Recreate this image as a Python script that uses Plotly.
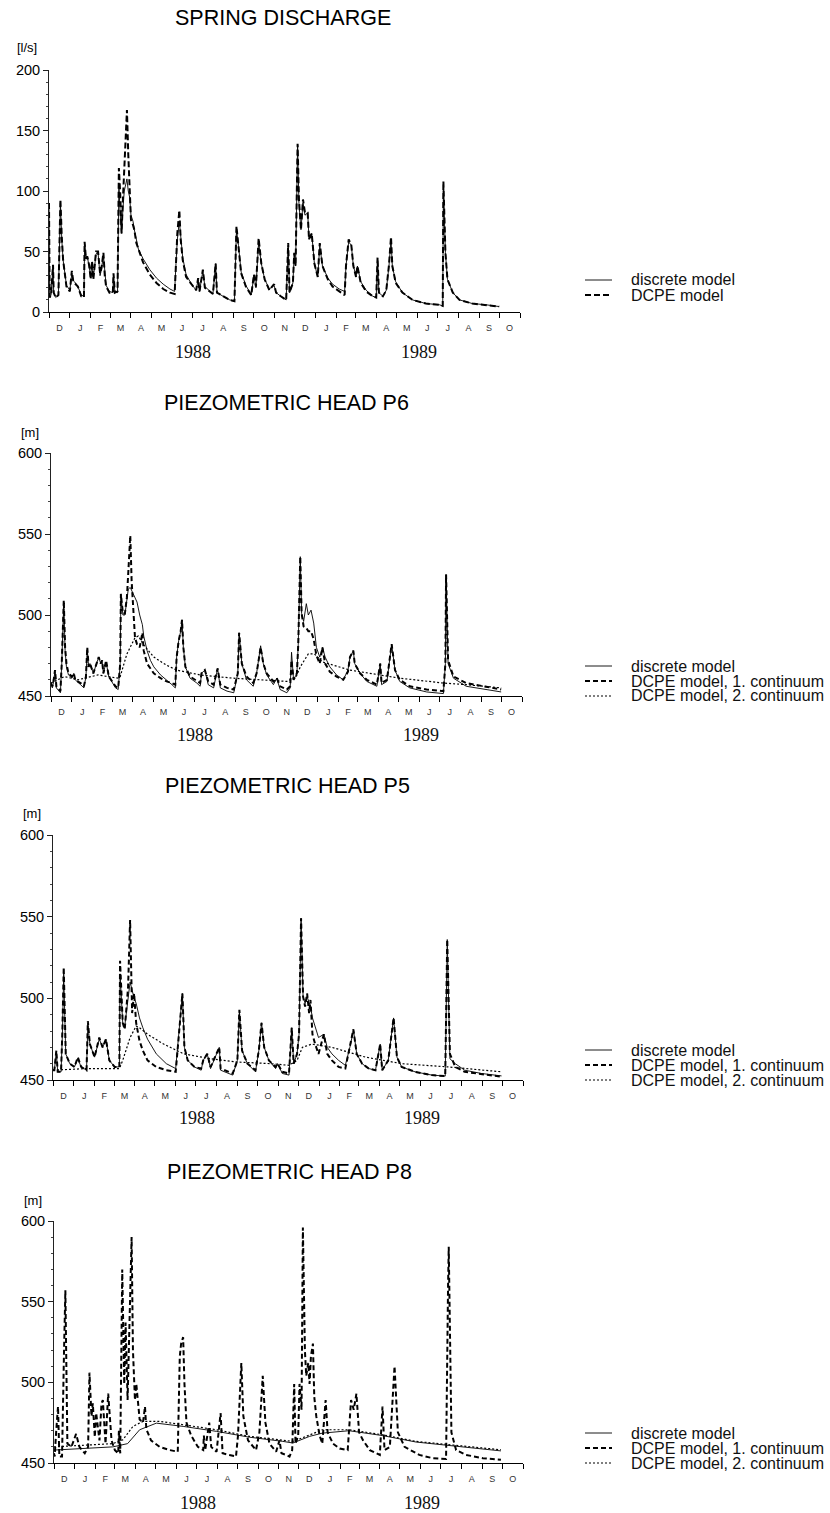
import pandas as pd
import plotly.graph_objects as go

W, H = 830, 1513
T0 = pd.Timestamp("1987-12-01")
T1 = pd.Timestamp("1989-11-01")

# ---------------- spring discharge [l/s] (days since 1 Dec 1987) ----------------
q_day = [0, 1, 3, 6, 7, 10, 14, 16, 17, 19,
         21, 26, 31, 34, 36, 38, 43, 48, 52, 53,
         55, 57, 60, 62, 64, 66, 70, 73, 76, 78,
         81, 83, 85, 90, 95, 96, 98, 102, 103, 104,
         106, 108, 110, 112, 114, 116, 118, 120, 122, 125,
         127, 130, 133, 140, 150, 160, 170, 180, 187, 189,
         191, 194, 196, 199, 204, 212, 219, 222, 224, 229,
         232, 244, 248, 250, 259, 269, 276, 279, 282, 286,
         293, 301, 305, 308, 312, 316, 321, 328, 335, 338,
         345, 353, 356, 358, 363, 365, 367, 370, 372, 375,
         378, 381, 385, 387, 391, 395, 400, 403, 407, 415,
         422, 432, 440, 442, 446, 450, 453, 457, 459, 464,
         472, 482, 487, 489, 491, 497, 502, 506, 509, 511,
         516, 526, 541, 561, 581, 586, 587, 590, 593, 601,
         611, 630, 650, 670]
q_discrete = [90, 12, 14, 38, 16, 12, 14, 60, 90, 60,
              43, 22, 18, 32, 26, 25, 21, 14, 13, 56,
              44, 46, 36, 30, 40, 28, 48, 49, 30, 35,
              47, 30, 22, 17, 16, 30, 17, 16, 90, 105,
              80, 65, 85, 100, 105, 110, 100, 95, 80, 75,
              68, 60, 52, 44, 35, 28, 23, 19, 17, 40,
              60, 75, 60, 45, 31, 23, 18, 27, 17, 34,
              21, 15, 40, 16, 13, 10, 9, 68, 55, 33,
              22, 14, 30, 20, 58, 40, 27, 19, 22, 16,
              13, 10, 55, 16, 24, 48, 38, 138, 90, 68,
              90, 80, 82, 60, 65, 40, 29, 55, 38, 28,
              23, 19, 17, 38, 58, 55, 38, 30, 38, 25,
              18, 13, 12, 44, 16, 13, 18, 38, 60, 38,
              25, 16, 10, 7, 6, 5, 105, 49, 27, 16,
              10, 7, 6, 4.5]
q_dcpe = [90, 12, 14, 39, 16, 12, 14, 60, 93, 62,
          43, 21, 17, 34, 26, 24, 21, 13, 12, 58,
          44, 46, 38, 27, 42, 27, 50, 50, 32, 36,
          49, 30, 21, 16, 16, 32, 16, 17, 110, 119,
          98, 65, 93, 115, 140, 167, 130, 104, 76, 72,
          68, 57, 52, 41, 31, 24, 19, 16, 15, 40,
          65, 84, 60, 43, 29, 23, 18, 28, 17, 35,
          20, 15, 40, 16, 13, 10, 9, 71, 54, 32,
          21, 14, 31, 21, 61, 40, 27, 18, 23, 16,
          13, 10, 57, 16, 24, 49, 38, 139, 93, 68,
          93, 82, 82, 60, 65, 40, 29, 57, 38, 27,
          21, 17, 14, 38, 60, 55, 38, 29, 38, 24,
          17, 13, 12, 45, 16, 13, 18, 39, 62, 38,
          24, 16, 10, 7, 6, 5, 108, 49, 27, 16,
          10, 7, 6, 4.5]

# ---------------- piezometric head P6 [m] ----------------
p6_day = [0, 2, 4, 6, 8, 14, 16, 19, 21, 23,
          26, 31, 34, 36, 44, 49, 52, 54, 56, 58,
          63, 66, 71, 74, 76, 78, 82, 86, 91, 96,
          100, 103, 104, 107, 110, 113, 115, 118, 120, 123,
          125, 128, 132, 136, 138, 143, 148, 153, 163, 172,
          180, 185, 187, 190, 193, 195, 197, 200, 207, 217,
          222, 224, 229, 234, 242, 248, 252, 262, 272, 278,
          280, 284, 291, 301, 306, 312, 316, 321, 331, 336,
          341, 351, 356, 358, 361, 366, 368, 371, 373, 376,
          380, 383, 387, 391, 395, 400, 404, 408, 415, 425,
          435, 442, 445, 450, 452, 460, 470, 485, 490, 492,
          500, 507, 512, 519, 534, 559, 584, 587, 588, 591,
          599, 618, 643, 670]
p6_dcpe1 = [458, 456, 460, 466, 456, 453, 470, 509, 480, 470,
            464, 462, 464, 460, 458, 456, 462, 480, 468, 470,
            464, 468, 474, 470, 472, 464, 472, 462, 459, 456,
            455, 470, 513, 501, 501, 511, 526, 549, 521, 501,
            486, 482, 480, 489, 478, 470, 467, 464, 461, 459,
            458, 457, 474, 484, 490, 497, 480, 468, 462, 459,
            458, 464, 466, 459, 457, 467, 457, 455, 454, 464,
            489, 470, 462, 458, 464, 480, 470, 464, 459, 461,
            456, 454, 456, 472, 460, 464, 482, 536, 501, 493,
            492, 490, 490, 485, 475, 470, 480, 470, 465, 462,
            460, 465, 474, 478, 470, 464, 460, 457, 470, 458,
            460, 482, 466, 460, 456, 454, 453, 470, 525, 472,
            462, 458, 456, 454]
p6_discrete = [458, 455, 459, 466, 455, 452, 470, 508, 478, 468,
               463, 461, 464, 460, 457, 455, 462, 479, 468, 470,
               464, 468, 474, 470, 472, 464, 471, 462, 458, 455,
               454, 470, 513, 500, 500, 510, 516, 517, 515, 512,
               511, 508, 500, 494, 487, 478, 472, 468, 463, 460,
               457, 455, 474, 484, 490, 497, 480, 468, 461, 458,
               456, 464, 466, 457, 455, 467, 455, 453, 452, 464,
               489, 470, 460, 456, 464, 481, 470, 463, 457, 461,
               454, 452, 455, 477, 460, 464, 482, 536, 501, 496,
               507, 500, 503, 495, 480, 474, 480, 474, 468, 463,
               460, 466, 474, 478, 470, 464, 459, 456, 470, 457,
               459, 482, 466, 459, 455, 452.5, 451.5, 470, 525, 470,
               461, 456, 454.5, 452.5]
p6_c2_day = [0, 20, 40, 70, 100, 103, 113, 125, 130, 137, 153, 172, 187,
             222, 271, 321, 351, 365, 371, 383, 392, 404, 445, 519, 584,
             618, 670]
p6_dcpe2 = [458, 462, 460, 463, 461, 462, 476, 486, 487, 482, 474, 469, 466,
            463, 461, 460, 459, 462, 468, 476, 476, 471, 466, 461, 458,
            457, 455]

# ---------------- piezometric head P5 [m] ----------------
p5_day = [0, 2, 5, 7, 12, 14, 16, 19, 25, 32,
          37, 42, 50, 52, 55, 62, 69, 74, 79, 84,
          92, 99, 100, 104, 107, 112, 115, 118, 121, 124,
          129, 134, 141, 154, 169, 183, 187, 191, 193, 196,
          201, 211, 221, 224, 230, 235, 248, 250, 268, 275,
          278, 282, 290, 302, 307, 311, 315, 322, 332, 335,
          342, 352, 356, 359, 364, 367, 370, 373, 376, 379,
          382, 384, 387, 391, 396, 404, 409, 416, 426, 436,
          444, 448, 453, 461, 471, 481, 488, 491, 500, 508,
          513, 520, 540, 565, 585, 588, 592, 600, 614, 639,
          669]
p5_dcpe1 = [456, 456, 468, 455, 455, 480, 519, 466, 460, 458,
            464, 458, 456, 486, 472, 464, 476, 470, 475, 462,
            458, 458, 523, 485, 481, 507, 548, 491, 503, 485,
            474, 468, 462, 458, 456, 455, 474, 495, 503, 470,
            462, 458, 457, 462, 466, 458, 470, 457, 454, 462,
            493, 468, 460, 456, 468, 485, 470, 462, 458, 460,
            455, 454, 482, 460, 466, 478, 549, 501, 495, 503,
            491, 499, 478, 472, 466, 478, 466, 462, 458, 457,
            472, 481, 466, 460, 457, 456, 472, 456, 462, 488,
            464, 458, 455, 453, 452.4, 536, 466, 458, 455, 453.7,
            452]
p5_discrete = [456, 456, 467, 455, 455, 478, 515, 466, 460, 458,
               463, 458, 456, 484, 472, 464, 475, 470, 475, 462,
               458, 458, 515, 485, 483, 500, 510, 505, 500, 497,
               488, 482, 475, 466, 460, 457, 474, 495, 503, 470,
               462, 458, 456, 462, 466, 457, 470, 456, 453, 462,
               492, 468, 460, 455, 468, 485, 470, 462, 457, 460,
               454, 453, 482, 460, 466, 478, 549, 501, 497, 501,
               497, 495, 488, 482, 476, 478, 470, 466, 462, 459,
               472, 481, 466, 460, 457, 456, 472, 456, 462, 488,
               464, 458, 455, 453, 452.4, 536, 463, 460, 456, 454,
               452.5]
p5_c2_day = [0, 50, 99, 104, 115, 124, 129, 141, 165, 195, 235, 275, 325,
             352, 364, 372, 386, 416, 466, 520, 590, 669]
p5_dcpe2 = [456, 457, 457, 462, 476, 483, 482, 478, 472, 466, 463, 461, 460,
            459, 462, 470, 472, 470, 464, 460, 458, 455]

# ---------------- piezometric head P8 [m] ----------------
p8_day = [0, 1, 3, 6, 8, 12, 15, 17, 20, 26,
          33, 38, 46, 51, 53, 56, 58, 61, 63, 68,
          71, 73, 77, 81, 86, 91, 96, 97, 99, 101,
          102, 105, 107, 110, 113, 116, 118, 121, 123, 126,
          128, 133, 136, 138, 145, 158, 173, 185, 188, 190,
          193, 195, 198, 205, 215, 223, 224, 226, 232, 235,
          243, 249, 252, 262, 272, 275, 280, 283, 290, 302,
          307, 312, 316, 322, 332, 337, 340, 347, 352, 356,
          359, 361, 365, 367, 370, 372, 375, 377, 380, 382,
          384, 387, 389, 392, 397, 401, 406, 409, 417, 427,
          439, 444, 448, 452, 456, 462, 472, 487, 491, 494,
          502, 509, 514, 524, 546, 566, 586, 589, 590, 594,
          601, 616, 641, 668]
p8_dcpe1 = [456, 454, 468, 485, 454, 454, 520, 557, 462, 460,
            468, 460, 456, 460, 506, 479, 487, 466, 481, 464,
            487, 489, 462, 493, 464, 458, 456, 470, 456, 520,
            570, 499, 537, 489, 541, 590, 520, 489, 499, 487,
            477, 475, 485, 471, 464, 460, 458, 457, 516, 524,
            528, 499, 475, 467, 460, 458, 467, 458, 475, 460,
            457, 481, 456, 455, 454, 467, 512, 479, 464, 458,
            469, 504, 475, 462, 457, 464, 456, 455, 454, 458,
            499, 462, 467, 499, 483, 596, 520, 504, 512, 499,
            516, 524, 491, 479, 467, 462, 489, 469, 462, 459,
            458, 489, 483, 493, 469, 464, 458, 455, 485, 458,
            460, 510, 469, 460, 455, 453, 452.5, 560, 584, 469,
            458, 455, 453, 452]
p8_disc_day = [0, 88, 110, 128, 153, 193, 243, 292, 342, 357, 382, 401, 441,
               491, 541, 590, 668]
p8_discrete = [458, 460, 462, 470.6, 474.7, 472.7, 469.6, 466, 463.4, 462.4,
               466.5, 468.5, 470, 467, 463, 461, 457.5]
p8_c2_day = [0, 44, 88, 103, 118, 133, 158, 193, 243, 292, 342, 357, 377,
             401, 441, 491, 541, 590, 668]
p8_dcpe2 = [460, 461, 462, 464.4, 472.7, 475.8, 475.8, 473.7, 470.6, 466.5,
            464.4, 463.4, 466.5, 470.6, 470.6, 467.5, 463.4, 461.3, 458.2]

month_letters = list("DJFMAMJJASONDJFMAMJJASO")
year_labels = ["1988", "1989"]
year_label_dates = ["1988-07-03", "1989-06-03"]


def dates(days):
    return [T0 + pd.Timedelta(days=float(d)) for d in days]


month_starts = list(pd.date_range(T0, T1, freq="MS"))
month_mids = [a + (b - a) / 2 for a, b in zip(month_starts[:-1], month_starts[1:])]


def fx(px):
    return px / W


def fy(py):
    return 1 - py / H


SANS = "Liberation Sans, Arial, Helvetica, sans-serif"
SERIF = "Liberation Serif, Times New Roman, serif"

thin = dict(color="black", width=0.9)
dash1 = dict(color="black", width=2.0, dash="5px,3px")
dot2 = dict(color="black", width=1.2, dash="2px,2px")
dash_q = dict(color="black", width=2.0, dash="6px,3px")

# panel geometry (pixels) and content
panels = [
    dict(title="SPRING DISCHARGE", unit="[l/s]", x=(49, 520), y=(312, 70),
         yr=(0, 200), title_xy=(283, 18), unit_xy=(27, 48), year_y=352,
         leg_y=[280, 295],
         series=[("discrete model", q_day, q_discrete, thin),
                 ("DCPE model", q_day, q_dcpe, dash_q)]),
    dict(title="PIEZOMETRIC HEAD P6", unit="[m]", x=(51, 522), y=(696, 453),
         yr=(450, 600), title_xy=(286, 403), unit_xy=(30, 432), year_y=735,
         leg_y=[666, 681, 696],
         series=[("discrete model", p6_day, p6_discrete, thin),
                 ("DCPE model, 1. continuum", p6_day, p6_dcpe1, dash1),
                 ("DCPE model, 2. continuum", p6_c2_day, p6_dcpe2, dot2)]),
    dict(title="PIEZOMETRIC HEAD P5", unit="[m]", x=(53, 523), y=(1080, 835),
         yr=(450, 600), title_xy=(287, 786), unit_xy=(32, 813), year_y=1118,
         leg_y=[1050, 1065, 1080],
         series=[("discrete model", p5_day, p5_discrete, thin),
                 ("DCPE model, 1. continuum", p5_day, p5_dcpe1, dash1),
                 ("DCPE model, 2. continuum", p5_c2_day, p5_dcpe2, dot2)]),
    dict(title="PIEZOMETRIC HEAD P8", unit="[m]", x=(54, 523), y=(1463, 1221),
         yr=(450, 600), title_xy=(289, 1172), unit_xy=(33, 1200), year_y=1503,
         leg_y=[1433, 1448, 1463],
         series=[("discrete model", p8_disc_day, p8_discrete, thin),
                 ("DCPE model, 1. continuum", p8_day, p8_dcpe1, dash1),
                 ("DCPE model, 2. continuum", p8_c2_day, p8_dcpe2, dot2)]),
]

fig = go.Figure()
layout = dict(width=W, height=H,
              margin=dict(l=0, r=0, t=0, b=0, pad=0, autoexpand=False),
              paper_bgcolor="white", plot_bgcolor="white", showlegend=False,
              font=dict(family=SANS, color="black"), annotations=[], shapes=[])

for i, p in enumerate(panels, start=1):
    sfx = "" if i == 1 else str(i)
    for (name, d, v, style), ly in zip(p["series"], p["leg_y"]):
        fig.add_trace(go.Scatter(x=dates(d), y=v, mode="lines", name=name,
                                 line=style, xaxis="x" + sfx, yaxis="y" + sfx,
                                 hoverinfo="skip"))
        # key entry: line sample + label
        layout["shapes"].append(dict(type="line", xref="paper", yref="paper",
                                     x0=fx(585), x1=fx(612), y0=fy(ly), y1=fy(ly),
                                     line=style))
        layout["annotations"].append(dict(text=name, x=fx(629), y=fy(ly), xref="paper",
                                          yref="paper", showarrow=False, xanchor="left",
                                          yanchor="middle",
                                          font=dict(family=SANS, size=16, color="#111")))
    lo, hi = p["yr"]
    layout["xaxis" + sfx] = dict(
        domain=[fx(p["x"][0]), fx(p["x"][1])], anchor="y" + sfx, type="date",
        range=[T0, T1], showline=True, linecolor="black", linewidth=1,
        showgrid=False, zeroline=False, automargin=False,
        tickmode="array", tickvals=month_mids, ticktext=month_letters,
        ticks="", ticklabelstandoff=7,
        tickfont=dict(family=SANS, size=9, color="#333"),
        minor=dict(tickmode="array", tickvals=month_starts, ticks="outside",
                   ticklen=5, tickwidth=1, tickcolor="black", showgrid=False),
    )
    layout["yaxis" + sfx] = dict(
        domain=[fy(p["y"][0]), fy(p["y"][1])], anchor="x" + sfx,
        range=[lo, hi], showline=True, linecolor="#222", linewidth=1,
        showgrid=False, zeroline=False, automargin=False,
        tickmode="array", tickvals=list(range(lo, hi + 1, 50)),
        ticks="outside", ticklen=5, tickwidth=1, tickcolor="#222",
        tickfont=dict(family=SANS, size=14.5, color="black"),
        minor=dict(tickmode="linear", tick0=lo, dtick=10, ticks="outside",
                   ticklen=2, tickwidth=1, tickcolor="#444", showgrid=False),
    )
    tx, ty = p["title_xy"]
    layout["annotations"].append(dict(text=p["title"], x=fx(tx), y=fy(ty), xref="paper",
                                      yref="paper", showarrow=False, xanchor="center",
                                      yanchor="middle", font=dict(family=SANS, size=21.5)))
    ux, uy = p["unit_xy"]
    layout["annotations"].append(dict(text=p["unit"], x=fx(ux), y=fy(uy), xref="paper",
                                      yref="paper", showarrow=False, xanchor="center",
                                      yanchor="middle", font=dict(family=SANS, size=13)))
    for lab, dte in zip(year_labels, year_label_dates):
        layout["annotations"].append(dict(text=lab, x=dte, y=fy(p["year_y"]), xref="x" + sfx,
                                          yref="paper", showarrow=False, xanchor="center",
                                          yanchor="middle",
                                          font=dict(family=SERIF, size=18, color="#111")))

fig.update_layout(**layout)
fig.write_html("out.html")
